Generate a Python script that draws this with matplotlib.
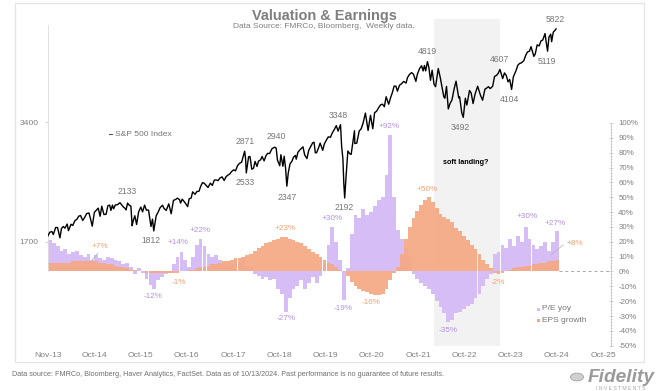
import numpy as np
import pandas as pd
import matplotlib
matplotlib.use('Agg')
import matplotlib.pyplot as plt
import matplotlib.dates as mdates
from matplotlib.ticker import FixedLocator, FuncFormatter, NullLocator
from matplotlib.patches import Rectangle, Circle
from matplotlib.lines import Line2D

plt.rcParams['font.family'] = ['Liberation Sans', 'DejaVu Sans']

# ---------------- data ----------------
title = "Valuation & Earnings"
subtitle = "Data Source: FMRCo, Bloomberg,  Weekly data."
footer = ("Data source: FMRCo, Bloomberg, Haver Analytics, FactSet. Data as of 10/13/2024. "
          "Past performance is no guarantee of future results.")

# monthly bars, Nov-2013 .. Oct-2024
bar_start = "2013-11-01"
pe_yoy = [21, 19,
          17, 14, 15, 12, 13, 14, 11, 10, 12, 8, 11, 9,
          8, 10, 9, 8, 7, 5, 6, 3, -2, 2, -1, -5,
          -9, -12, -6, -4, -2, -1, 5, 10, 13, 8, 3, 10,
          18, 22, 17, 12, 10, 11, 8, 6, 7, 5, 8, 6,
          9, 4, 3, -2, -3, -5, -4, -6, -5, -12, -15, -27,
          -18, -12, -10, -6, -12, -8, -4, -8, -3, 5, 18, 30,
          20, 8, -19, 2, 25, 38, 36, 42, 38, 40, 44, 48,
          50, 65, 92, 50, 28, 22, 16, 10, -2, -5, -8, -10,
          -12, -15, -20, -24, -28, -34, -33, -28, -27, -25, -23, -22,
          -18, -15, -10, -5, -2, 12, 13, 18, 16, 22, 17, 24,
          20, 30, 22, 18, 15, 17, 20, 14, 20, 27]
eps_growth = [6, 6,
              6, 6, 6, 6, 7, 7, 7, 7, 7, 7, 7, 6,
              6, 5, 5, 4, 3, 3, 2, 1, 1, 0, 0, -1,
              -1, -1, -1, -1, -1, -1, -1, -1, 0, 0, 1, 1,
              2, 3, 3, 4, 5, 5, 6, 7, 7, 8, 9, 9,
              10, 11, 12, 14, 16, 17, 19, 20, 21, 22, 23, 23,
              22, 21, 20, 19, 17, 15, 13, 12, 10, 8, 6, 5,
              3, 1, 0, -3, -7, -10, -12, -13, -14, -15, -16, -16,
              -15, -12, -6, -1, 3, 12, 22, 30, 36, 41, 45, 48,
              50, 47, 43, 39, 37, 35, 33, 29, 27, 24, 21, 18,
              15, 12, 8, 5, 2, -1, -2, -1, 0, 1, 2, 3,
              3, 4, 4, 5, 5, 6, 6, 7, 7, 8]

sp_dates = [
    "2013-11-01", "2013-11-15", "2013-12-01", "2013-12-13", "2013-12-31",
    "2014-01-15", "2014-02-03", "2014-02-15", "2014-03-01", "2014-03-14", "2014-04-01", "2014-04-11",
    "2014-05-01", "2014-05-15", "2014-06-01", "2014-06-15", "2014-07-01", "2014-07-15", "2014-08-01",
    "2014-08-15", "2014-09-01", "2014-09-19", "2014-10-01", "2014-10-15", "2014-11-01", "2014-11-15",
    "2014-12-01", "2014-12-16", "2014-12-29",
    "2015-01-15", "2015-02-01", "2015-02-15", "2015-03-01", "2015-03-11", "2015-03-23", "2015-04-01",
    "2015-04-15", "2015-05-01", "2015-05-21", "2015-06-01", "2015-06-15", "2015-07-01", "2015-07-08",
    "2015-07-20", "2015-08-01", "2015-08-15", "2015-08-25", "2015-09-01", "2015-09-15", "2015-09-29",
    "2015-10-15", "2015-11-01", "2015-11-15", "2015-12-01", "2015-12-15",
    "2016-01-01", "2016-01-20", "2016-02-01", "2016-02-11", "2016-03-01", "2016-03-15", "2016-04-01",
    "2016-04-20", "2016-05-01", "2016-05-19", "2016-06-08", "2016-06-27", "2016-07-15", "2016-08-01",
    "2016-08-15", "2016-09-01", "2016-09-09", "2016-09-22", "2016-10-14", "2016-11-04", "2016-11-15",
    "2016-12-01", "2016-12-13",
    "2017-01-01", "2017-01-15", "2017-02-01", "2017-02-15", "2017-03-01", "2017-03-15", "2017-04-13",
    "2017-05-01", "2017-05-17", "2017-06-01", "2017-06-15", "2017-07-01", "2017-07-15", "2017-08-01",
    "2017-08-18", "2017-09-01", "2017-09-15", "2017-10-01", "2017-10-15", "2017-11-01", "2017-11-15",
    "2017-12-01", "2017-12-15",
    "2018-01-02", "2018-01-15", "2018-01-26", "2018-02-02", "2018-02-08", "2018-02-26", "2018-03-09",
    "2018-03-23", "2018-04-06", "2018-04-18", "2018-05-03", "2018-05-15", "2018-06-01", "2018-06-12",
    "2018-06-28", "2018-07-13", "2018-07-26", "2018-08-10", "2018-08-29", "2018-09-20", "2018-10-01",
    "2018-10-11", "2018-10-29", "2018-11-07", "2018-11-23", "2018-12-03", "2018-12-14", "2018-12-24",
    "2019-01-04", "2019-01-18", "2019-02-01", "2019-02-15", "2019-03-01", "2019-03-08", "2019-03-21",
    "2019-04-05", "2019-04-30", "2019-05-13", "2019-05-31", "2019-06-14", "2019-06-28", "2019-07-15",
    "2019-07-26", "2019-08-05", "2019-08-15", "2019-08-30", "2019-09-12", "2019-10-02", "2019-10-15",
    "2019-11-01", "2019-11-15", "2019-12-02", "2019-12-16",
    "2020-01-02", "2020-01-17", "2020-01-31", "2020-02-19", "2020-02-28", "2020-03-09", "2020-03-16",
    "2020-03-23", "2020-04-03", "2020-04-17", "2020-05-01", "2020-05-13", "2020-06-08", "2020-06-11",
    "2020-06-26", "2020-07-15", "2020-07-31", "2020-08-14", "2020-09-02", "2020-09-23", "2020-10-12",
    "2020-10-30", "2020-11-13", "2020-11-30", "2020-12-15", "2020-12-31",
    "2021-01-15", "2021-01-29", "2021-02-12", "2021-03-04", "2021-03-19", "2021-04-01", "2021-04-16",
    "2021-04-30", "2021-05-12", "2021-05-28", "2021-06-15", "2021-06-30", "2021-07-19", "2021-07-30",
    "2021-08-13", "2021-08-31", "2021-09-15", "2021-10-04", "2021-10-15", "2021-11-02", "2021-11-18",
    "2021-11-30", "2021-12-10", "2021-12-20",
    "2022-01-03", "2022-01-14", "2022-01-27", "2022-02-09", "2022-02-24", "2022-03-08", "2022-03-29",
    "2022-04-14", "2022-04-29", "2022-05-12", "2022-05-20", "2022-06-02", "2022-06-16", "2022-06-30",
    "2022-07-15", "2022-08-01", "2022-08-16", "2022-09-06", "2022-09-13", "2022-09-30", "2022-10-12",
    "2022-10-28", "2022-11-09", "2022-11-30", "2022-12-13", "2022-12-28",
    "2023-01-13", "2023-02-02", "2023-02-24", "2023-03-13", "2023-03-31", "2023-04-14", "2023-04-28",
    "2023-05-12", "2023-05-31", "2023-06-15", "2023-06-30", "2023-07-14", "2023-07-27", "2023-08-18",
    "2023-09-01", "2023-09-15", "2023-09-29", "2023-10-12", "2023-10-27", "2023-11-10", "2023-11-30",
    "2023-12-15", "2023-12-29",
    "2024-01-12", "2024-01-31", "2024-02-16", "2024-02-29", "2024-03-15", "2024-03-28", "2024-04-19",
    "2024-04-30", "2024-05-15", "2024-05-31", "2024-06-14", "2024-06-28", "2024-07-16", "2024-07-25",
    "2024-08-05", "2024-08-16", "2024-08-30", "2024-09-06", "2024-09-19", "2024-09-30", "2024-10-11",
]
sp_values = [
    1762, 1798, 1806, 1775, 1848,
    1848, 1741, 1838, 1859, 1841, 1885, 1815,
    1883, 1870, 1924, 1936, 1973, 1981, 1925,
    1955, 2003, 2010, 1946, 1862, 2018, 2040,
    2067, 1972, 2090,
    1992, 1995, 2096, 2104, 2040, 2104, 2059,
    2106, 2108, 2133, 2111, 2084, 2063, 2046,
    2128, 2104, 2091, 1867, 1914, 1978, 1881,
    2023, 2079, 2023, 2103, 2043,
    2044, 1859, 1940, 1812, 1978, 2015, 2073,
    2102, 2065, 2040, 2119, 2001, 2162, 2173,
    2190, 2171, 2128, 2177, 2133, 2085, 2180,
    2191, 2271,
    2239, 2275, 2279, 2349, 2396, 2385, 2329,
    2388, 2357, 2430, 2433, 2423, 2459, 2476,
    2425, 2476, 2500, 2519, 2553, 2579, 2564,
    2642, 2675,
    2695, 2786, 2871, 2762, 2533, 2780, 2786,
    2588, 2604, 2708, 2630, 2711, 2734, 2786,
    2716, 2801, 2837, 2833, 2914, 2940, 2924,
    2728, 2641, 2814, 2633, 2790, 2600, 2347,
    2532, 2671, 2707, 2776, 2803, 2743, 2855,
    2893, 2946, 2812, 2752, 2887, 2942, 3014,
    3026, 2845, 2848, 2926, 3010, 2887, 2996,
    3067, 3120, 3113, 3191,
    3258, 3330, 3225, 3348, 2954, 2746, 2386,
    2192, 2489, 2875, 2831, 2820, 3232, 3002,
    3009, 3226, 3271, 3373, 3580, 3237, 3534,
    3270, 3585, 3622, 3694, 3756,
    3768, 3714, 3934, 3768, 3913, 4020, 4185,
    4181, 4063, 4204, 4246, 4298, 4258, 4395,
    4468, 4523, 4481, 4300, 4471, 4631, 4705,
    4567, 4712, 4568,
    4819, 4662, 4327, 4587, 4225, 4170, 4631,
    4392, 4132, 3930, 3901, 4176, 3667, 3785,
    3863, 4119, 4305, 3908, 3932, 3586, 3492,
    3901, 3749, 4080, 4020, 3783,
    3999, 4180, 3970, 3855, 4109, 4137, 4169,
    4124, 4180, 4426, 4450, 4505, 4607, 4370,
    4515, 4450, 4288, 4349, 4104, 4415, 4568,
    4719, 4770,
    4784, 4846, 5006, 5096, 5117, 5254, 4967,
    5036, 5308, 5278, 5431, 5460, 5667, 5400,
    5119, 5554, 5648, 5408, 5713, 5762, 5822,
]

tick_labels = ["Nov-13", "Oct-14", "Oct-15", "Oct-16", "Oct-17", "Oct-18", "Oct-19",
               "Oct-20", "Oct-21", "Oct-22", "Oct-23", "Oct-24", "Oct-25"]
left_ticks = [1700, 3400]
right_ticks = list(range(-50, 101, 10))
shade_span = ("2022-02-23", "2023-07-26")

sp_labels = [("2133", 127, 192), ("1812", 151, 241), ("2871", 245, 142), ("2533", 245, 183),
             ("2940", 276, 137), ("2347", 287, 197), ("3348", 338, 115), ("2192", 344, 207),
             ("4819", 427, 52), ("3492", 460, 127), ("4607", 499, 60), ("4104", 510, 100),
             ("5119", 547, 61), ("5822", 555, 19)]
pe_labels = [("+14%", 178, 242), ("+22%", 200, 231), ("-12%", 153, 296), ("-27%", 286, 318),
             ("+30%", 332, 218), ("-19%", 343, 308), ("+92%", 389, 127), ("-35%", 448, 330),
             ("+30%", 527, 217), ("+27%", 555, 223)]
eps_labels = [("+7%", 100, 247), ("-1%", 179, 282), ("+23%", 285, 228), ("-16%", 371, 303),
              ("+50%", 427, 190), ("-2%", 498, 282), ("+8%", 575, 243)]

# ---------------- styling ----------------
PURPLE = "#d6bdf6"
ORANGE = "#f6a882"
PURPLE_T = "#b590e6"
ORANGE_T = "#f0a173"
GRAY_T = "#777777"
AX_GRAY = "#c8c8c8"

W, H = 661, 391
fig = plt.figure(figsize=(W / 100, H / 100), dpi=100)
fig.patch.set_facecolor("white")


def fx(x):
    return x / W


def fy(y):
    return 1 - y / H


# frame border
fig.add_artist(Rectangle((fx(15), fy(362)), fx(644) - fx(15), fy(3) - fy(362),
                         transform=fig.transFigure, fill=False, edgecolor="#e3e3e3", lw=0.9))

ax = fig.add_axes([fx(48), fy(346), fx(611) - fx(48), fy(19) - fy(346)])
ax2 = ax.twinx()

# x coordinates
d0 = pd.Timestamp("2013-11-01")
tick_pos = mdates.date2num([d0 + pd.Timedelta(days=364 * k) for k in range(len(tick_labels))])
x_right = mdates.date2num(d0 + pd.Timedelta(days=4429))
months = pd.date_range(bar_start, periods=len(pe_yoy) + 1, freq="MS")
bar_x = mdates.date2num(months[:-1])
bar_w = np.diff(mdates.date2num(months)) - 0.6
sp_x = mdates.date2num(pd.to_datetime(sp_dates))

# ---- percent axis (bars) ----
ax.axvspan(mdates.date2num(pd.Timestamp(shade_span[0])), mdates.date2num(pd.Timestamp(shade_span[1])),
           color="#f2f2f2", zorder=0, lw=0)
ax.bar(bar_x, pe_yoy, width=bar_w, align="edge", color=PURPLE, lw=0, zorder=2)
ax.bar(bar_x, eps_growth, width=bar_w, align="edge", color=ORANGE, lw=0, zorder=3, alpha=0.92)
ax.plot([bar_x[-1] + bar_w[-1], x_right], [0, 0], ls=(0, (3, 3)), color="#a8a8a8", lw=0.7, zorder=1)

ax.set_xlim(tick_pos[0], x_right)
ax.set_ylim(-50.2, 170.0)
ax.set_xticks(tick_pos)
ax.set_xticklabels(tick_labels)
ax.tick_params(axis="x", length=0, pad=4.2, labelsize=6.1, labelcolor="#808080")
ax.yaxis.tick_right()
ax.yaxis.set_major_locator(FixedLocator(right_ticks))
ax.yaxis.set_minor_locator(FixedLocator(list(range(-50, 101, 2))))
ax.yaxis.set_major_formatter(FuncFormatter(lambda v, p: f"{int(round(v))}%"))
ax.tick_params(axis="y", which="major", direction="inout", length=3.5, width=0.6,
               color=AX_GRAY, labelsize=5.7, labelcolor="#808080", pad=3.5)
ax.tick_params(axis="y", which="minor", direction="inout", length=1.8, width=0.4, color=AX_GRAY)
for s in ["left", "top", "bottom"]:
    ax.spines[s].set_visible(False)
ax.spines["right"].set_color(AX_GRAY)
ax.spines["right"].set_linewidth(0.6)
ax.spines["right"].set_bounds(-50, 100)
ax.patch.set_visible(False)

# ---- S&P axis (log) ----
ax2.set_yscale("log")
ax2.set_ylim(932, 6165)
ax2.plot(sp_x, sp_values, color="black", lw=1.0, zorder=5)
ax2.yaxis.tick_left()
ax2.yaxis.set_major_locator(FixedLocator(left_ticks))
ax2.yaxis.set_minor_locator(NullLocator())
ax2.yaxis.set_major_formatter(FuncFormatter(lambda v, p: f"{int(v)}"))
ax2.tick_params(axis="y", which="major", direction="out", length=2.5, width=0.6,
                color=AX_GRAY, labelsize=6.1, labelcolor="#808080", pad=4.5)
for s in ["right", "top", "bottom"]:
    ax2.spines[s].set_visible(False)
ax2.spines["left"].set_color("#dcdcdc")
ax2.spines["left"].set_linewidth(0.6)
ax2.spines["left"].set_bounds(1438, 5950)
ax2.set_xlim(tick_pos[0], x_right)

# ---- annotations ----
for t, x, y in sp_labels:
    fig.text(fx(x), fy(y), t, ha="center", va="center", fontsize=6.2, color=GRAY_T)
for t, x, y in pe_labels:
    fig.text(fx(x), fy(y), t, ha="center", va="center", fontsize=5.9, color=PURPLE_T)
for t, x, y in eps_labels:
    fig.text(fx(x), fy(y), t, ha="center", va="center", fontsize=5.9, color=ORANGE_T)

# leader lines
fig.add_artist(Line2D([fx(92), fx(98)], [fy(260), fy(253)], color="#b0b0b0", lw=0.5))
fig.add_artist(Line2D([fx(551), fx(563)], [fy(255), fy(245)], color="#b0b0b0", lw=0.5))

# S&P legend label
fig.add_artist(Line2D([fx(109), fx(112)], [fy(134), fy(134)], color="#555555", lw=0.8))
fig.text(fx(115), fy(134), "S&P 500 Index", ha="left", va="center", fontsize=6.1, color=GRAY_T)

fig.text(fx(466), fy(163), "soft landing?", ha="center", va="center", fontsize=5.2,
         fontweight="bold", color="black")

# bar legend
fig.add_artist(Rectangle((fx(536.5), fy(311)), 3.5 / W, 3.5 / H, transform=fig.transFigure,
                         color=PURPLE, lw=0))
fig.add_artist(Rectangle((fx(536.5), fy(322)), 3.5 / W, 3.5 / H, transform=fig.transFigure,
                         color=ORANGE, lw=0))
fig.text(fx(542.5), fy(309), "P/E yoy", ha="left", va="center", fontsize=6.0, color=GRAY_T)
fig.text(fx(542.5), fy(320), "EPS growth", ha="left", va="center", fontsize=6.0, color=GRAY_T)

# titles / footer
t_title = fig.text(fx(324), fy(16), title, ha="center", va="center", fontsize=10,
                   fontweight="bold", color="#7f7f7f")
t_sub = fig.text(fx(324), fy(27), subtitle, ha="center", va="center", fontsize=6, color="#7f7f7f")
t_foot = fig.text(fx(12), fy(375), footer, ha="left", va="center", fontsize=5.5, color="#6f6f6f",
                  family=["Liberation Sans Narrow", "Liberation Sans", "DejaVu Sans"])

# Fidelity logo (text based)
fig.add_artist(Circle((fx(577), fy(377)), 6.5 / W, transform=fig.transFigure,
                      facecolor="#d0d0d0", edgecolor="#a0a0a0", lw=0.6))
t_fid = fig.text(fx(588), fy(377), "Fidelity", ha="left", va="center", fontsize=11,
                 fontweight="bold", fontstyle="italic", color="#9a9a9a")
t_inv = fig.text(fx(621), fy(388), "I N V E S T M E N T S", ha="center", va="center", fontsize=2.6,
                 color="#a8a8a8")

# fit text widths to reference
fig.canvas.draw()
r = fig.canvas.get_renderer()
for t, target in [(t_title, 145), (t_sub, 182), (t_foot, 435), (t_fid, 67), (t_inv, 50)]:
    w = t.get_window_extent(r).width
    if w > 0:
        t.set_fontsize(t.get_fontsize() * target / w)

fig.savefig("out.png", dpi=100)
